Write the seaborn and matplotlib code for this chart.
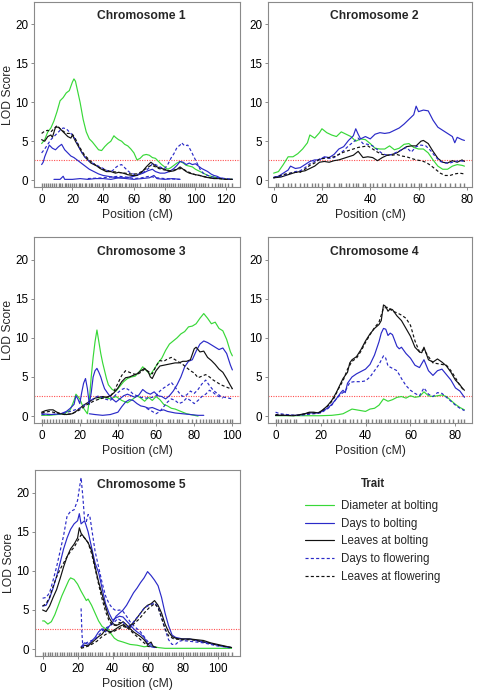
import matplotlib
matplotlib.use("Agg")
import matplotlib.pyplot as plt
from matplotlib.lines import Line2D
from matplotlib.ticker import MultipleLocator
import pandas as pd
import seaborn as sns

# ---------------- data ----------------
TRAITS = ["Diameter at bolting", "Days to bolting", "Leaves at bolting",
          "Days to flowering", "Leaves at flowering"]
THRESHOLD = 2.55

# marker positions (cM) for the rug
M1 = [0, 1.5, 3, 4, 5.5, 7, 8, 9.5, 11, 12, 13.5, 15, 16, 17, 18.5, 20, 21, 22.5, 24, 25, 26.5, 28, 29,
      30.5, 32, 33, 34.5, 36, 37.5, 39, 40, 41.5, 43, 44, 45.5, 47, 48.5, 50, 51, 52.5, 54, 55, 56.5, 58,
      59.5, 61, 62, 64, 67, 69, 70.5, 72, 73, 74.5, 76, 77.5, 79, 80, 81.5, 83, 84, 85.5, 87, 88.5, 90, 91,
      92.5, 94, 95, 96.5, 98, 99, 100.5, 102, 103.5, 105, 106, 108, 111, 113, 114.5, 116, 117.5, 119, 121, 124]
M2 = [0.8, 2, 4, 6, 7, 9, 11, 12.5, 14, 16, 17, 18.5, 20, 22, 23, 25, 27, 28, 30, 31, 33, 34, 35, 37, 38,
      40, 41, 43, 45, 46, 48, 50, 52, 53, 55, 57, 58, 60, 61, 63, 65, 67, 69, 71, 73, 75, 77, 79]
M3 = [0, 1.5, 3, 4.5, 6, 7.5, 9, 10.5, 12, 13.5, 15, 16, 17, 19, 20.5, 24, 25.5, 27, 28, 29.5, 31, 32,
      33.5, 35, 36, 37.5, 39, 40, 41, 42.5, 44, 45, 46.5, 48, 49, 50, 51.5, 53, 54, 55.5, 57, 58, 60, 61.5,
      63, 66, 67.5, 69, 71, 72, 73.5, 77, 79, 81, 83, 84.5, 86, 87.5, 89, 90.5, 92, 93, 95, 97, 98.5, 100]
M4 = [0, 1, 2.5, 4, 5, 6.5, 8, 9, 13, 15, 16, 17.5, 19, 21, 23, 24.5, 26, 28, 30, 31, 33, 34.5, 36, 38, 40,
      41, 43, 44.5, 46, 47, 48.5, 50, 51, 52.5, 54, 56, 57, 58.5, 60, 62, 64, 66, 67, 69, 70, 72, 73, 75,
      77, 79, 81, 82.5, 84]
M5 = [0, 1.5, 3, 4, 5.5, 7, 8.5, 10, 11, 12.5, 14, 15, 16.5, 18, 19, 20.5, 22, 23, 24.5, 26, 27, 28.5, 30,
      31.5, 33, 34, 36, 38, 40, 41, 42.5, 44, 45.5, 47, 48.5, 50, 51, 52.5, 54, 55, 56.5, 58, 59, 60.5, 62,
      63, 64.5, 66, 67, 68.5, 70, 71, 72.5, 74, 75, 76.5, 78, 79, 80.5, 82, 83, 84.5, 86, 87, 88.5, 90, 91,
      92.5, 94, 95, 96.5, 98, 99, 100.5, 102, 103, 104.5, 106, 108.5]

# ---- Chromosome 1 ----
C1_DIAM = [(0,4.7),(2,5.2),(4,6.2),(6,6.7),(8,7.6),(10,8.8),(12,10.2),(14,10.6),(16,11.2),(18,11.5),(20,12.6),
           (21,13.0),(22,12.7),(23,11.8),(25,10.0),(27,7.8),(29,6.2),(31,5.3),(33,4.9),(35,4.4),(37,3.9),
           (39,3.8),(41,4.3),(43,4.7),(45,5.0),(47,5.7),(48,5.5),(50,5.2),(52,5.0),(54,4.6),(56,4.4),(58,4.0),
           (60,3.5),(62,2.6),(64,2.8),(66,3.2),(68,3.3),(70,3.2),(72,2.9),(74,2.8),(76,2.4),(78,2.0),(80,1.7),
           (82,1.4),(84,1.6),(86,1.9),(88,2.2),(90,2.4),(92,2.2),(94,1.9),(96,1.8),(98,1.7),(100,1.4),
           (102,1.2),(104,1.0),(106,0.8),(108,0.6),(110,0.5),(112,0.4),(114,0.3),(116,0.2),(118,0.2),
           (120,0.1),(122,0.1),(124,0.1)]
C1_DTB = [(0,2.0),(1,2.3),(2,3.0),(4,4.0),(5,4.5),(7,4.1),(9,3.9),(11,4.3),(13,4.6),(15,3.9),(17,3.5),(19,3.1),
          (21,2.9),(23,2.6),(25,2.3),(27,2.0),(29,1.7),(31,1.4),(33,1.2),(35,1.0),(37,0.8),(40,0.6),(43,0.5),
          (46,0.4),(50,0.3),(55,0.3),(60,0.5),(63,0.7),(66,0.9),(69,1.2),(72,1.4),(74,1.1),(77,0.9),(80,0.9),
          (83,1.1),(86,1.5),(88,1.9),(90,2.4),(92,2.3),(94,2.0),(96,2.2),(98,2.0),(100,2.1),(102,1.8),
          (104,1.5),(106,1.3),(108,1.1),(110,0.8),(112,0.6),(114,0.5),(116,0.3),(118,0.2),(120,0.1),
          (122,0.1),(124,0.1)]
C1_DTB2 = [(8,0.1),(12,0.1),(14,0.5),(15,0.1),(20,0.1),(25,0.2),(30,0.1),(35,0.2),(40,0.2),(45,0.1),
           (50,0.3),(55,0.2),(60,0.1),(65,0.2),(70,0.3),(73,0.6),(75,0.2),(80,0.1),(85,0.2),(90,0.1)]
C1_LAB = [(0,5.2),(2,5.0),(4,5.6),(6,5.8),(7,5.5),(9,6.8),(11,6.8),(13,6.4),(15,6.0),(17,5.6),(19,5.4),(20,5.8),
          (22,5.0),(24,4.3),(26,3.6),(28,3.0),(30,2.6),(32,2.2),(34,2.0),(36,1.8),(38,1.5),(40,1.3),(42,1.1),
          (45,1.1),(48,0.9),(50,1.0),(53,0.9),(56,0.7),(59,0.6),(62,0.6),(65,1.0),(68,1.7),(70,2.1),(71,2.3),
          (73,2.0),(75,1.7),(78,1.5),(80,1.4),(83,1.1),(86,1.2),(88,1.4),(90,1.7),(92,1.4),(94,1.1),(96,0.9),
          (98,0.8),(100,0.7),(103,0.6),(106,0.4),(109,0.3),(112,0.2),(116,0.2),(120,0.1),(124,0.1)]
C1_DTF = [(0,3.5),(2,4.0),(4,4.6),(6,5.2),(8,5.6),(10,6.0),(12,6.4),(14,6.7),(16,6.6),(18,6.2),(20,5.8),
          (22,5.2),(24,4.4),(26,3.6),(28,3.0),(30,2.6),(32,2.3),(34,2.1),(36,1.9),(38,1.7),(40,1.5),(43,1.2),
          (46,1.2),(48,1.6),(50,1.9),(52,2.0),(54,1.6),(56,1.2),(58,0.9),(61,0.7),(64,0.8),(67,1.1),(70,1.6),
          (72,2.1),(74,2.0),(76,1.8),(78,1.6),(80,1.5),(82,2.0),(84,2.8),(86,3.4),(88,4.2),(90,4.5),(91,4.8),
          (93,4.4),(95,4.5),(97,3.8),(99,3.0),(101,2.2),(103,1.4),(105,0.9),(108,0.6),(111,0.4),(115,0.3),
          (120,0.2),(124,0.1)]
C1_DTF2 = [(30,0.2),(40,0.3),(50,0.5),(55,0.4),(60,0.2),(65,0.3),(70,0.5),(75,0.3),(80,0.2),(90,0.1)]
C1_LAF = [(0,6.0),(2,6.3),(4,6.4),(6,6.2),(8,6.6),(10,7.0),(12,6.6),(14,6.3),(16,6.0),(18,6.0),(20,5.9),
          (22,5.3),(24,4.5),(26,3.8),(28,3.2),(30,2.8),(32,2.4),(34,2.1),(36,1.8),(38,1.6),(40,1.4),(43,1.2),
          (46,1.1),(50,1.0),(54,0.9),(58,0.8),(62,0.8),(65,1.1),(68,1.5),(71,1.9),(73,1.8),(76,1.5),(80,1.3),
          (84,1.2),(88,1.4),(91,1.5),(94,1.2),(97,0.9),(100,0.7),(105,0.5),(110,0.3),(115,0.2),(120,0.1),
          (124,0.1)]

# ---- Chromosome 2 ----
C2_DIAM = [(0,0.9),(2,1.1),(4,2.0),(6,3.0),(8,3.0),(10,3.4),(12,4.0),(14,4.8),(15,5.8),(17,5.4),(19,6.1),
           (20,6.6),(22,6.1),(24,5.8),(26,5.6),(28,6.2),(30,5.9),(32,5.6),(34,5.0),(36,5.3),(38,5.2),(40,4.7),
           (42,4.1),(44,4.0),(46,4.0),(48,4.4),(50,3.9),(52,4.1),(54,4.6),(56,4.7),(58,4.2),(60,4.0),(62,4.0),
           (64,3.5),(66,2.6),(68,1.8),(70,1.4),(72,1.4),(74,1.8),(76,2.0),(78,1.9),(79,1.8)]
C2_DTB = [(0,0.3),(2,0.5),(4,0.9),(6,1.3),(7,1.8),(9,1.5),(11,1.6),(13,2.0),(15,2.4),(17,2.6),(19,2.6),
          (21,3.0),(23,2.9),(25,3.3),(27,4.0),(29,4.3),(31,5.1),(33,5.7),(34,6.6),(35,5.9),(36,5.3),(38,5.6),
          (40,5.3),(42,5.9),(44,6.1),(46,6.0),(48,6.1),(50,6.4),(52,6.7),(54,7.2),(56,7.8),(58,8.4),(59,9.5),
          (60,8.8),(62,9.0),(64,8.9),(66,7.7),(68,6.8),(70,6.4),(72,6.0),(74,5.6),(75,4.8),(76,5.5),(78,5.2),
          (79,5.1)]
C2_LAB = [(0,0.3),(3,0.4),(5,0.6),(7,0.8),(9,1.0),(11,1.1),(13,1.2),(15,1.5),(17,1.8),(19,2.3),(21,2.4),
          (23,2.3),(25,2.5),(27,2.6),(29,2.8),(31,3.0),(33,3.2),(35,3.7),(37,2.9),(39,3.0),(41,2.9),(43,2.5),
          (45,2.9),(47,3.2),(49,3.3),(51,3.5),(53,3.9),(55,4.3),(57,4.4),(59,4.4),(61,5.0),(62,5.1),(64,4.7),
          (66,3.7),(68,2.8),(70,2.3),(72,2.2),(74,2.5),(76,2.3),(78,2.6),(79,2.4)]
C2_DTF = [(0,0.4),(3,0.5),(5,0.7),(7,0.9),(9,1.1),(11,1.2),(13,1.6),(15,2.1),(17,2.4),(19,2.7),(21,2.9),
          (23,2.8),(25,2.9),(27,3.3),(29,3.8),(31,4.4),(33,4.9),(35,5.4),(37,4.7),(39,4.6),(41,4.4),(43,3.9),
          (45,3.4),(47,3.2),(49,3.3),(51,3.6),(53,3.9),(55,4.2),(57,3.6),(59,4.3),(61,4.5),(63,4.4),(65,3.8),
          (67,3.0),(69,2.4),(71,2.2),(73,2.2),(75,2.4),(77,2.5),(79,2.4)]
C2_LAF = [(0,0.3),(3,0.6),(5,0.8),(7,0.9),(9,1.0),(11,1.0),(13,1.4),(15,1.9),(17,2.2),(19,2.7),(21,2.8),
          (23,2.9),(25,3.0),(27,3.3),(29,3.6),(31,3.8),(33,4.0),(35,4.2),(37,4.3),(39,4.4),(41,4.0),(43,3.6),
          (45,3.3),(47,3.2),(49,3.2),(51,3.3),(53,3.1),(55,3.0),(57,2.8),(59,2.6),(61,2.5),(63,2.3),(65,1.9),
          (67,1.4),(69,0.9),(71,0.6),(73,0.6),(75,0.8),(77,0.9),(79,0.8)]

# ---- Chromosome 3 ----
C3_DIAM = [(0,0.1),(4,0.1),(8,0.2),(12,0.3),(15,0.8),(17,2.0),(18,2.8),(20,2.2),(22,1.0),(24,0.3),(25,2.0),
           (26,5.0),(27,7.5),(28,9.5),(29,11.0),(30,9.5),(31,8.0),(32,6.8),(33,5.8),(34,4.8),(35,4.0),(37,3.4),
           (39,3.2),(41,3.8),(43,4.4),(45,4.8),(47,5.0),(49,5.1),(51,5.6),(53,6.3),(55,5.8),(57,5.3),(59,6.0),
           (61,6.8),(63,7.4),(65,8.4),(67,9.2),(69,9.6),(71,10.0),(73,10.5),(75,10.8),(77,11.4),(79,11.5),
           (81,11.8),(83,12.5),(85,13.1),(87,12.5),(89,11.8),(91,12.0),(93,11.2),(95,10.9),(97,9.8),(99,8.2),
           (100,7.7)]
C3_DIAM2 = [(30,2.2),(33,2.4),(36,2.2),(39,2.5),(42,2.0),(45,1.7),(48,2.2),(50,2.6),(52,2.3),(54,1.9),
            (56,2.4),(58,2.0),(60,2.5),(62,2.1),(64,1.5),(66,1.3),(68,1.0),(70,0.9),(72,0.7),(74,0.5),
            (76,0.3),(78,0.2),(80,0.1),(82,0.0)]
C3_DTB = [(0,0.3),(5,0.2),(10,0.3),(13,0.6),(15,1.0),(17,1.5),(18,2.6),(19,2.2),(20,1.6),(21,3.0),(22,4.2),
          (23,4.8),(24,3.5),(25,1.5),(26,3.0),(27,5.0),(28,5.8),(29,6.1),(30,5.6),(31,5.0),(32,4.2),(33,3.5),
          (35,2.8),(37,2.2),(39,1.8),(41,2.2),(43,2.6),(45,2.8),(47,2.6),(49,2.4),(51,2.7),(53,3.4),(55,3.0),
          (57,2.8),(59,3.1),(61,2.6),(63,2.5),(65,2.2),(67,2.6),(69,3.2),(71,4.0),(73,5.0),(75,6.3),(77,7.0),
          (79,7.2),(81,8.3),(83,9.2),(85,9.6),(87,9.4),(89,9.1),(91,8.8),(93,8.5),(95,8.7),(97,8.0),(99,6.5),
          (100,5.9)]
C3_DTB2 = [(25,0.3),(28,0.2),(32,0.1),(36,0.2),(40,0.5),(42,1.2),(44,1.8),(46,2.1),(48,2.0),(50,1.6),
           (52,1.3),(54,1.2),(56,1.0),(58,1.1),(60,0.9),(62,0.7),(64,0.8),(66,0.6),(68,0.5),(70,0.4),
           (74,0.3),(78,0.2),(82,0.1),(85,0.1)]
C3_LAB = [(0,0.5),(2,0.7),(4,0.8),(6,0.8),(8,0.5),(10,0.3),(13,0.2),(16,0.3),(18,0.6),(20,1.0),(22,1.4),
          (24,1.7),(26,2.0),(28,2.3),(30,2.4),(32,2.5),(34,2.4),(36,2.6),(38,3.0),(40,3.6),(42,4.4),(44,4.9),
          (46,5.0),(48,5.2),(50,5.4),(52,5.8),(54,6.1),(56,5.6),(57,5.0),(58,4.8),(60,5.8),(62,6.4),(64,6.5),
          (66,6.6),(68,6.7),(70,6.8),(72,6.8),(74,7.0),(76,7.0),(78,7.2),(80,8.6),(81,8.8),(83,8.2),(85,8.3),
          (87,7.5),(89,7.1),(91,6.6),(93,6.0),(95,5.6),(97,4.8),(99,3.9),(100,3.5)]
C3_LAF = [(0,0.4),(4,0.6),(8,0.4),(12,0.2),(16,0.3),(20,0.8),(24,1.5),(28,2.0),(32,2.3),(36,2.5),(38,3.2),
          (40,4.2),(42,5.2),(44,5.8),(46,5.6),(48,5.4),(50,5.3),(52,5.6),(54,6.0),(56,5.7),(58,5.4),(60,6.4),
          (62,7.1),(64,7.0),(66,7.3),(68,7.5),(70,7.2),(72,6.9),(74,6.6),(76,6.2),(78,5.8),(80,5.5),(82,4.9),
          (84,5.1),(86,5.3),(88,5.0),(90,4.6),(92,4.3),(94,4.0),(96,3.8),(98,3.6),(100,3.5)]
C3_DTF = [(0,0.2),(5,0.2),(10,0.3),(15,0.6),(20,1.0),(25,1.8),(28,2.4),(30,2.6),(33,2.2),(36,2.0),(38,2.5),
          (40,3.0),(42,3.4),(44,3.6),(46,3.3),(48,2.8),(50,2.6),(52,2.4),(55,2.3),(58,2.4),(60,2.6),(62,3.2),
          (64,3.6),(66,3.9),(68,4.3),(70,3.7),(72,3.0),(74,2.5),(76,2.7),(78,3.2),(80,2.9),(82,3.4),(84,4.1),
          (86,4.6),(88,3.9),(90,3.3),(92,2.9),(94,2.5),(96,2.4),(98,2.3),(100,2.2)]
C3_DTF2 = [(55,1.0),(58,0.6),(60,0.3),(62,0.6),(64,1.2),(66,1.8),(68,2.2),(70,2.0),(72,1.6),(74,1.8),
           (76,2.3),(78,2.0),(80,1.6),(82,2.0),(84,2.5),(86,2.8),(88,3.3),(90,3.0),(92,2.6),(95,2.3)]

# ---- Chromosome 4 ----
C4_DIAM = [(0,0.05),(10,0.05),(20,0.05),(25,0.1),(28,0.2),(30,0.3),(32,0.6),(34,0.9),(36,0.8),(38,0.7),
           (40,0.6),(42,0.9),(44,1.0),(46,1.4),(48,2.2),(50,1.9),(52,2.1),(54,2.4),(56,2.5),(58,2.3),(60,2.6),
           (62,2.4),(64,2.5),(66,3.1),(68,2.6),(70,2.5),(72,2.6),(74,2.7),(76,2.5),(78,2.0),(80,1.5),(82,1.1),
           (84,0.8)]
C4_DTB = [(0,0.1),(5,0.1),(10,0.1),(15,0.4),(18,0.4),(20,0.5),(23,1.0),(25,1.5),(27,2.2),(29,3.0),(30,3.3),
          (31,3.0),(32,4.2),(34,5.0),(36,5.4),(38,5.7),(40,6.0),(42,6.6),(44,7.8),(46,9.5),(47,10.6),(48,11.2),
          (49,11.1),(50,10.3),(51,10.6),(52,10.4),(54,8.9),(55,8.6),(56,8.8),(58,8.0),(60,7.4),(62,6.5),
          (64,6.2),(66,7.2),(68,5.8),(70,5.2),(72,5.8),(74,6.0),(76,5.3),(78,4.6),(80,3.6),(82,3.2),(83,2.8),
          (84,2.4)]
C4_LAB = [(0,0.1),(4,0.1),(8,0.05),(11,0.2),(13,0.3),(15,0.5),(17,0.5),(19,0.4),(21,0.8),(23,1.3),(25,2.0),
          (27,3.0),(29,4.2),(30,4.8),(32,5.6),(33,6.8),(34,7.2),(36,7.6),(38,8.5),(40,9.6),(42,10.5),(44,11.2),
          (46,11.7),(47,12.2),(48,14.2),(49,14.0),(50,13.4),(51,13.7),(52,13.6),(54,12.8),(56,12.2),(58,11.2),
          (60,10.2),(62,8.8),(64,8.2),(65,8.1),(66,8.8),(68,7.2),(70,6.9),(72,7.3),(74,6.9),(76,6.4),(78,5.6),
          (80,4.6),(82,4.0),(83,3.6),(84,3.3)]
C4_DTF = [(0,0.5),(2,0.3),(5,0.2),(8,0.1),(11,0.1),(14,0.2),(17,0.3),(20,0.4),(23,0.9),(25,1.4),(27,2.2),
          (29,2.8),(31,3.2),(33,4.3),(35,4.4),(38,4.4),(40,4.5),(42,5.0),(44,5.8),(46,6.6),(48,7.7),(49,7.4),
          (50,6.4),(52,6.1),(54,5.8),(56,4.8),(58,3.9),(60,3.3),(62,2.9),(64,2.6),(66,3.6),(68,2.8),(70,2.5),
          (72,3.0),(74,2.9),(76,2.4),(78,1.9),(80,1.4),(82,1.0),(84,0.7)]
C4_LAF = [(0,0.2),(5,0.1),(10,0.1),(15,0.4),(18,0.4),(20,0.5),(22,1.0),(24,1.5),(26,2.3),(28,3.5),(30,4.5),
          (32,6.0),(34,7.0),(36,7.4),(38,8.3),(40,9.4),(42,10.4),(44,11.3),(46,12.0),(48,13.8),(50,13.9),
          (52,13.4),(54,13.2),(56,12.9),(58,12.5),(60,11.6),(62,9.6),(64,8.2),(66,8.5),(68,7.6),(70,6.8),
          (72,6.7),(74,6.6),(76,6.5),(78,5.8),(80,4.9),(82,3.9),(84,3.2)]

# ---- Chromosome 5 ----
C5_DIAM = [(0,3.6),(1,3.6),(2,3.4),(3,3.2),(5,3.5),(7,4.4),(9,5.6),(11,6.8),(13,7.8),(15,8.8),(16,9.1),
           (18,8.9),(20,8.3),(22,7.4),(24,6.6),(25,6.2),(26,6.4),(28,5.6),(30,4.6),(32,3.6),(34,2.9),(36,2.6),
           (37,2.7),(39,2.0),(41,1.4),(43,1.1),(46,0.9),(50,0.6),(54,0.5),(58,0.3),(62,0.4),(66,0.2),(70,0.1),
           (80,0.1),(90,0.1),(100,0.1),(108,0.1)]
C5_DTB = [(0,5.5),(2,5.6),(4,6.5),(6,7.8),(8,9.3),(10,11.0),(12,12.8),(14,14.2),(16,15.3),(18,16.0),(20,16.4),
          (21,17.3),(22,16.0),(24,16.4),(26,15.0),(28,13.0),(30,11.0),(32,9.8),(34,7.8),(36,5.8),(38,4.6),
          (40,3.7),(42,4.0),(44,4.2),(46,4.1),(48,3.6),(50,3.1),(52,2.6),(54,2.2),(56,1.9),(58,1.5),(60,0.7),
          (62,0.3),(64,0.2)]
C5_DTB2 = [(22,0.3),(24,0.8),(26,0.6),(28,1.0),(30,1.5),(32,2.2),(34,2.6),(36,2.2),(38,2.9),(40,3.4),
           (42,4.2),(44,4.6),(46,5.0),(48,5.6),(50,6.4),(52,7.2),(54,7.8),(56,8.5),(58,9.1),(60,9.9),(62,9.4),
           (64,8.8),(66,8.1),(68,6.6),(70,4.6),(72,3.0),(74,1.8),(76,1.5),(78,1.4),(80,1.3),(84,1.3),(88,1.1),
           (92,0.9),(96,0.7),(100,0.5),(104,0.3),(108,0.2)]
C5_LAB = [(0,5.0),(2,4.8),(4,5.5),(6,6.6),(8,7.6),(10,9.0),(12,10.5),(14,11.8),(16,12.8),(18,13.4),(20,14.2),
          (21,15.5),(22,14.8),(24,14.2),(26,13.6),(28,12.6),(30,10.5),(32,8.6),(34,7.0),(36,5.4),(38,4.0),
          (40,3.3),(42,3.0),(44,3.2),(46,3.5),(48,3.1),(50,2.6),(52,2.2),(54,1.9),(56,1.6),(58,1.2),(60,0.6),
          (62,0.9),(63,0.4),(65,0.2)]
C5_LAB2 = [(22,0.2),(24,0.5),(26,0.4),(28,0.8),(30,1.2),(32,1.6),(34,1.9),(36,2.5),(38,2.2),(40,2.3),
           (42,2.6),(44,2.9),(46,3.1),(48,2.8),(50,3.0),(52,3.4),(54,4.0),(56,4.6),(58,5.2),(60,5.6),(62,5.8),
           (64,6.2),(66,5.6),(68,4.6),(70,3.2),(72,2.2),(74,1.6),(76,1.4),(78,1.3),(80,1.3),(84,1.3),(88,1.2),
           (92,1.1),(96,0.8),(100,0.6),(104,0.4),(108,0.2)]
C5_DTF = [(0,6.5),(2,6.6),(4,7.2),(6,8.8),(8,10.5),(10,12.5),(12,14.5),(14,17.0),(16,17.6),(18,17.8),
          (20,19.0),(21,20.5),(22,21.9),(23,19.5),(24,16.5),(25,16.3),(26,17.2),(27,17.0),(28,15.5),(30,12.5),
          (32,10.5),(34,8.5),(36,6.8),(38,5.8),(40,5.2),(42,4.9),(44,5.0),(46,4.8),(48,4.2),(50,3.5),(52,3.0),
          (54,2.6),(56,2.2),(58,1.6),(60,1.0),(62,0.6),(64,0.3)]
C5_DTF2 = [(22,5.2),(22.5,2.0),(23,0.3),(25,0.8),(27,1.0),(30,1.3),(33,2.0),(35,2.6),(38,2.9),(40,3.2),
           (43,3.9),(45,3.6),(48,3.0),(50,2.6),(52,3.5),(55,4.3),(58,5.2),(60,5.5),(62,5.7),(64,5.9),(66,5.4),
           (68,4.0),(70,2.5),(72,1.2),(74,0.6),(76,0.6),(78,1.0),(80,1.1),(84,1.0),(88,0.9),(92,0.8),(96,0.6),
           (100,0.4),(104,0.3),(108,0.1)]
C5_LAF = [(0,5.5),(2,5.8),(4,6.6),(6,8.0),(8,9.2),(10,10.2),(12,11.0),(14,11.8),(16,12.5),(18,13.0),(20,13.8),
          (22,14.6),(24,14.2),(26,13.6),(28,12.2),(30,10.3),(32,8.3),(34,6.4),(36,4.8),(38,3.6),(40,3.0),
          (42,3.1),(44,3.4),(46,3.2),(48,2.8),(50,2.4),(52,2.0),(54,1.6),(56,1.2),(58,0.8),(60,0.4),(62,0.2)]
C5_LAF2 = [(22,0.1),(25,0.3),(28,0.6),(31,1.0),(34,1.6),(37,2.0),(40,2.2),(43,2.5),(46,2.9),(49,2.7),
           (52,3.2),(55,3.8),(58,4.6),(61,5.3),(64,5.8),(66,5.3),(68,4.0),(70,2.6),(72,1.7),(75,1.3),(80,1.2),
           (85,1.2),(90,1.0),(95,0.8),(100,0.5),(105,0.3),(108,0.2)]

CURVES = [
    (1, TRAITS[0], C1_DIAM), (1, TRAITS[1], C1_DTB), (1, TRAITS[1], C1_DTB2), (1, TRAITS[2], C1_LAB),
    (1, TRAITS[3], C1_DTF), (1, TRAITS[3], C1_DTF2), (1, TRAITS[4], C1_LAF),
    (2, TRAITS[0], C2_DIAM), (2, TRAITS[1], C2_DTB), (2, TRAITS[2], C2_LAB), (2, TRAITS[3], C2_DTF),
    (2, TRAITS[4], C2_LAF),
    (3, TRAITS[0], C3_DIAM), (3, TRAITS[0], C3_DIAM2), (3, TRAITS[1], C3_DTB), (3, TRAITS[1], C3_DTB2),
    (3, TRAITS[2], C3_LAB), (3, TRAITS[3], C3_DTF), (3, TRAITS[3], C3_DTF2), (3, TRAITS[4], C3_LAF),
    (4, TRAITS[0], C4_DIAM), (4, TRAITS[1], C4_DTB), (4, TRAITS[2], C4_LAB), (4, TRAITS[3], C4_DTF),
    (4, TRAITS[4], C4_LAF),
    (5, TRAITS[0], C5_DIAM), (5, TRAITS[1], C5_DTB), (5, TRAITS[1], C5_DTB2), (5, TRAITS[2], C5_LAB),
    (5, TRAITS[2], C5_LAB2), (5, TRAITS[3], C5_DTF), (5, TRAITS[3], C5_DTF2), (5, TRAITS[4], C5_LAF),
    (5, TRAITS[4], C5_LAF2),
]
MARKERS = {1: M1, 2: M2, 3: M3, 4: M4, 5: M5}

# ---------------- style ----------------
sns.set_style("white")
plt.rcParams['font.family'] = ['Liberation Sans', 'DejaVu Sans']

GREEN, BLUE, BLACK = "#38d838", "#2a2ac8", "#111111"
PALETTE = {TRAITS[0]: GREEN, TRAITS[1]: BLUE, TRAITS[2]: BLACK, TRAITS[3]: BLUE, TRAITS[4]: BLACK}
DASH = (2.6, 1.9)
DASHES = {TRAITS[0]: "", TRAITS[1]: "", TRAITS[2]: "", TRAITS[3]: DASH, TRAITS[4]: DASH}
BOX = "#8a8a8a"
FS_TICK = 8.4
FS_LAB = 8.7
FS_TITLE = 8.7
FS_LEG = 8.3
LW = 0.85

rows = []
for cid, (chrom, trait, pts) in enumerate(CURVES):
    for p, v in pts:
        rows.append({"chrom": chrom, "trait": trait, "curve": cid, "pos": p, "lod": v})
df = pd.DataFrame(rows)

W, H = 478, 690
fig = plt.figure(figsize=(W / 100, H / 100), dpi=100)

# panel boxes in pixels: (left, top, right, bottom)
BOXES = {1: (34, 2, 240, 187), 2: (268, 2, 472, 187),
         3: (34, 237, 240, 423), 4: (268, 237, 472, 423),
         5: (35, 470, 240, 656)}

for chrom, (l, t, r, b) in BOXES.items():
    ax = fig.add_axes([l / W, 1 - b / H, (r - l) / W, (b - t) / H])
    sub = df[df.chrom == chrom]
    sns.lineplot(data=sub, x="pos", y="lod", hue="trait", style="trait", units="curve",
                 estimator=None, palette=PALETTE, dashes=DASHES, hue_order=TRAITS,
                 style_order=TRAITS, legend=False, lw=LW, ax=ax)
    ax.axhline(THRESHOLD, color="#ff5050", lw=0.8, ls=(0, (1, 1.2)), zorder=0.5)
    sns.rugplot(x=MARKERS[chrom], ax=ax, height=0.022, color="#808080", lw=0.5,
                expand_margins=False)
    mk = MARKERS[chrom]
    span = max(mk) - min(mk)
    ax.set_xlim(min(mk) - 0.04 * span, max(mk) + 0.04 * span)
    ax.set_ylim(-0.88, 22.88)
    ax.xaxis.set_major_locator(MultipleLocator(20))
    ax.set_yticks([0, 5, 10, 15, 20])
    for s in ax.spines.values():
        s.set_color(BOX)
        s.set_linewidth(0.8)
    ax.tick_params(axis="x", which="major", bottom=True, length=2.5, width=0.7,
                   color=BOX, labelcolor="black", labelsize=FS_TICK, pad=2.5)
    ax.tick_params(axis="y", which="major", left=True, length=2.5, width=0.7,
                   color=BOX, labelcolor="black", labelsize=FS_TICK, pad=1.5)
    ax.set_xlabel("Position (cM)", fontsize=FS_LAB, labelpad=2)
    if chrom in (1, 3, 5):
        ax.set_ylabel("LOD Score", fontsize=FS_LAB, labelpad=1)
    else:
        ax.set_ylabel("")
    ax.text(0.52, 0.922, f"Chromosome {chrom}", transform=ax.transAxes, ha="center",
            va="center", fontsize=FS_TITLE, fontweight="bold")

handles = []
for tr in TRAITS:
    h = Line2D([], [], color=PALETTE[tr], lw=LW)
    if DASHES[tr]:
        h.set_dashes(DASHES[tr])
    handles.append(h)
leg = fig.legend(handles, TRAITS, title="Trait", loc="upper left",
                 bbox_to_anchor=(305 / W, 1 - 478 / H), frameon=False, fontsize=FS_LEG,
                 handlelength=2.5, handletextpad=0.6, labelspacing=0.48, borderpad=0,
                 borderaxespad=0)
leg.get_title().set_fontweight("bold")
leg.get_title().set_fontsize(FS_LEG)
leg._legend_box.sep = 7.5

fig.savefig("out.png", dpi=100)
